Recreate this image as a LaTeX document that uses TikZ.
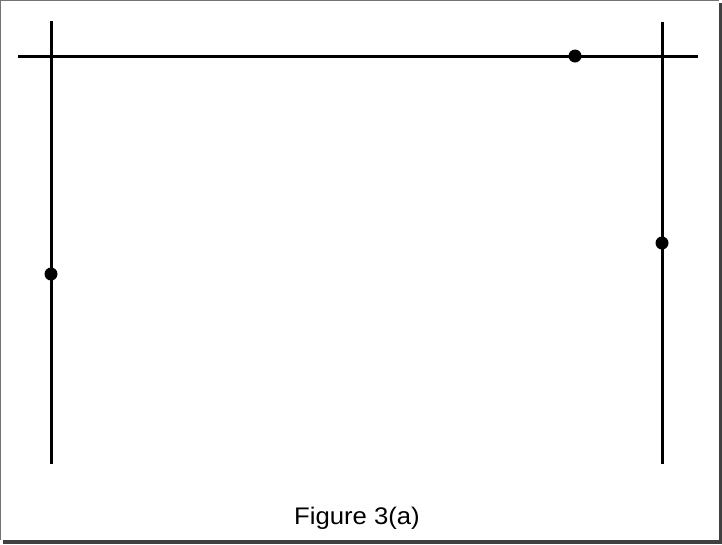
\documentclass[tikz,border=0pt]{standalone}
\usepackage{fontspec}
\setmainfont{Liberation Sans}
\begin{document}
\begin{tikzpicture}[x=1pt,y=-1pt,
  wire/.style={line width=3pt,black},
  dotmark/.style={circle,fill=black,inner sep=0pt,minimum size=13pt}]
\useasboundingbox (0,0) rectangle (722,544);
% shadow and frame
\fill[black!75] (3,3) rectangle (722,544);
\fill[white] (0,0) rectangle (718.5,539.5);
\draw[black!55,line width=1pt] (0.5,539.5) -- (0.5,0.5) -- (718.5,0.5);
% lines
\coordinate (lt) at (51,21);
\coordinate (lb) at (51,464);
\coordinate (rt) at (662,22);
\coordinate (rb) at (662,464);
\coordinate (hl) at (18,56);
\coordinate (hr) at (698,56);
\draw[wire] (lt) -- (lb);
\draw[wire] (rt) -- (rb);
\draw[wire] (hl) -- (hr);
% dots
\node[dotmark] (d1) at (575,56) {};
\node[dotmark] (d2) at (51,274) {};
\node[dotmark] (d3) at (662,243) {};
% caption
\node[font=\fontsize{24}{28}\selectfont, inner sep=0pt, xscale=1.07] (cap) at (357,518) {Figure 3(a)};
\end{tikzpicture}
\end{document}
